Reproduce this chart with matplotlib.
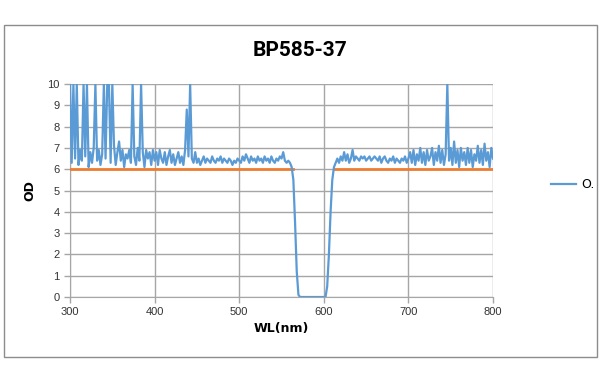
import numpy as np
import matplotlib.pyplot as plt
from matplotlib.patches import Rectangle

# measured OD, 2 nm steps from 300 to 800 nm
wl = np.arange(300, 801, 2)
od = [
    # 300-398
    10, 6.3, 10, 6.5, 10, 6.2, 6.9, 6.4, 10, 6.6,
    10, 6.1, 6.8, 6.3, 7.0, 10, 6.4, 6.9, 6.2, 6.7,
    10, 6.5, 10, 10, 6.3, 10, 7.1, 6.2, 6.8, 7.3,
    6.4, 6.9, 6.1, 6.7, 6.5, 6.9, 6.3, 10, 6.6, 6.2,
    7.0, 6.4, 10, 6.8, 6.1, 6.9, 6.5, 6.8, 6.2, 6.9,
    # 400-498
    6.4, 6.8, 6.2, 6.9, 6.5, 6.3, 6.8, 6.2, 6.6, 6.9,
    6.3, 6.7, 6.2, 6.5, 6.8, 6.3, 6.6, 6.2, 6.9, 8.8,
    6.6, 10, 6.5, 6.3, 6.8, 6.3, 6.5, 6.2, 6.4, 6.6,
    6.3, 6.5, 6.4, 6.3, 6.6, 6.4, 6.3, 6.5, 6.4, 6.6,
    6.3, 6.5, 6.4, 6.3, 6.5, 6.4, 6.2, 6.4, 6.3, 6.5,
    # 500-598
    6.4, 6.3, 6.6, 6.4, 6.7, 6.5, 6.3, 6.6, 6.4, 6.5,
    6.3, 6.6, 6.4, 6.5, 6.3, 6.6, 6.4, 6.5, 6.3, 6.6,
    6.4, 6.3, 6.5, 6.4, 6.6, 6.5, 6.8, 6.4, 6.3, 6.4,
    6.3, 6.1, 5.5, 3.5, 1.2, 0.1, 0, 0, 0, 0,
    0, 0, 0, 0, 0, 0, 0, 0, 0, 0,
    # 600-698
    0, 0, 0.5, 2.0, 4.0, 5.5, 6.1, 6.3, 6.5, 6.3,
    6.6, 6.4, 6.8, 6.4, 6.7, 6.3, 6.5, 6.9, 6.4, 6.6,
    6.5, 6.4, 6.6, 6.5, 6.6, 6.4, 6.5, 6.6, 6.4, 6.5,
    6.6, 6.5, 6.4, 6.6, 6.3, 6.5, 6.6, 6.4, 6.3, 6.5,
    6.4, 6.6, 6.3, 6.5, 6.4, 6.3, 6.5, 6.4, 6.6, 6.3,
    # 700-800
    6.5, 6.8, 6.3, 6.9, 6.2, 6.7, 6.4, 7.0, 6.3, 6.8,
    6.2, 6.9, 6.4, 6.6, 7.0, 6.2, 6.8, 6.4, 7.1, 6.3,
    6.9, 6.2, 6.7, 10, 6.4, 7.0, 6.2, 7.3, 6.3, 6.9,
    6.1, 7.0, 6.4, 6.8, 6.2, 7.0, 6.3, 6.9, 6.1, 6.7,
    6.4, 7.1, 6.3, 6.9, 6.2, 7.2, 6.4, 6.8, 6.1, 7.0,
    6.5,
]

# spec line (OD 6 blocking outside the passband)
spec_wl = [300, 563, np.nan, 612, 800]
spec_od = [6, 6, np.nan, 6, 6]

fig = plt.figure(figsize=(6, 3.83), dpi=100)
fig.patches.append(Rectangle((0.007, 0.068), 0.988, 0.867, transform=fig.transFigure,
                             fill=False, edgecolor='#8c8c8c', linewidth=1))

ax = fig.add_axes([0.1167, 0.2245, 0.705, 0.5562])
ax.plot(spec_wl, spec_od, color='#ed7d31', linewidth=2, zorder=3)
ax.plot(wl, od, color='#5b9bd5', linewidth=1.6, label='O.', zorder=4)

ax.set_xlim(300, 800)
ax.set_ylim(0, 10)
ax.set_xticks(range(300, 801, 100))
ax.set_yticks(range(0, 11))
ax.grid(True, color='#a6a6a6', linewidth=1)
ax.set_axisbelow(True)
for s in ['top', 'right']:
    ax.spines[s].set_visible(False)
for s in ['left', 'bottom']:
    ax.spines[s].set_color('#a6a6a6')
ax.tick_params(colors='#a6a6a6', labelcolor='#333333', labelsize=8, length=4, width=1)
for lbl in ax.get_xticklabels() + ax.get_yticklabels():
    lbl.set_fontfamily('Liberation Sans')

ax.set_xlabel('WL(nm)', fontsize=9, fontweight='bold', labelpad=3)
ax.set_ylabel('OD', fontsize=9, fontweight='bold', labelpad=8)

fig.text(0.5, 0.869, 'BP585-37', ha='center', va='center', fontsize=15,
         fontweight='bold', fontfamily='Roboto')

fig.legend(loc='center left', bbox_to_anchor=(0.918, 0.517), frameon=False,
           borderpad=0, borderaxespad=0, handletextpad=0.4, fontsize=9)

fig.savefig('out.png', dpi=100)
